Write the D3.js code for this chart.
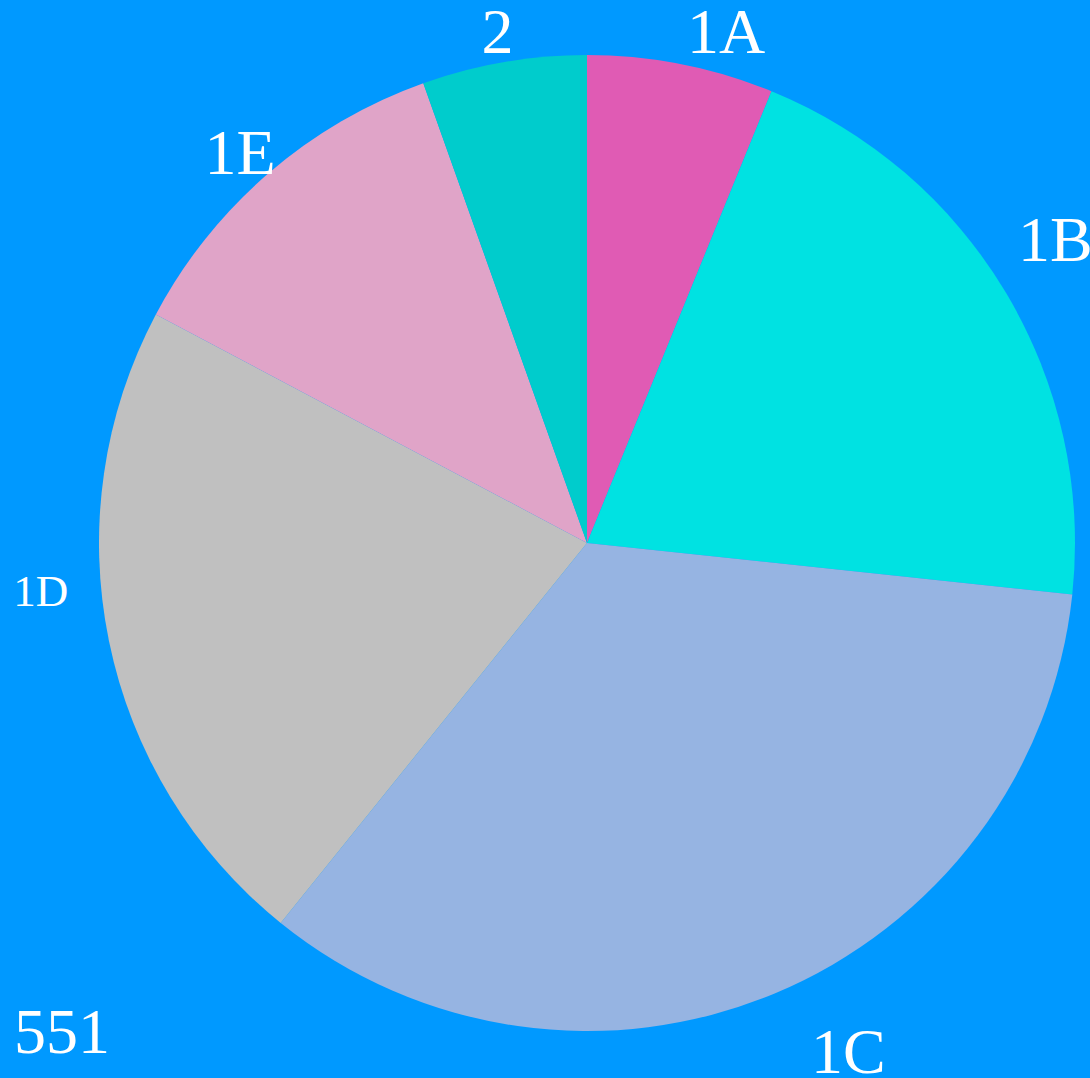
<!DOCTYPE html>
<html>
<head>
<meta charset="utf-8">
<script src="https://cdn.jsdelivr.net/npm/d3@7"></script>
<style>
  html, body { margin: 0; padding: 0; background: #0099ff; overflow: hidden; }
  svg { display: block; }
</style>
</head>
<body>
<svg id="chart" width="1090" height="1078"></svg>
<script>
/* chart data */
const categories = ["1A", "1B", "1C", "1D", "1E", "2"];
const counts = [34, 113, 188, 121, 65, 30];
const sliceColors = ["#e05bb4", "#00e2e2", "#96b4e2", "#c0c0c0", "#e0a4c8", "#00cccc"];
const totalLabel = "n = " + d3.sum(counts);

/* layout */
const width = 1090, height = 1078;
const cx = 587, cy = 543;
const radius = 488;
const labelRadius = 520;
const labelSizes = [64, 64, 64, 45, 64, 64];
// small nudges so labels sit where the original put them
const labelNudge = [[39, -2], [22, -38], [62, 27], [-37, -57], [-7, 2], [-1, 0]];

const svg = d3.select("#chart");

svg.append("rect")
    .attr("width", width)
    .attr("height", height)
    .attr("fill", "#0099ff");

const data = categories.map((c, i) => ({ name: c, value: counts[i], i: i }));

var pie = d3.pie()
    .sort(null)
    .value(d => d.value);

var arc = d3.arc()
    .innerRadius(0)
    .outerRadius(radius);

var labelArc = d3.arc()
    .innerRadius(labelRadius)
    .outerRadius(labelRadius);

const g = svg.append("g")
    .attr("transform", "translate(" + cx + "," + cy + ")");

/* slices */
g.selectAll(".slice")
    .data(pie(data))
    .enter()
    .append("path")
    .attr("class", "slice")
    .attr("d", arc)
    .attr("fill", d => sliceColors[d.data.i]);

/* slice labels */
g.selectAll(".label")
    .data(pie(data))
    .enter()
    .append("text")
    .attr("class", "label")
    .attr("x", d => labelArc.centroid(d)[0] + labelNudge[d.data.i][0])
    .attr("y", d => labelArc.centroid(d)[1] + labelNudge[d.data.i][1])
    .attr("dy", "0.35em")
    .attr("text-anchor", "middle")
    .style("font-family", "'Liberation Serif', 'Times New Roman', serif")
    .style("font-size", d => labelSizes[d.data.i] + "px")
    .style("fill", "white")
    .text(d => d.data.name);

/* total count, bottom left (runs off the edge like the original) */
svg.append("text")
    .attr("x", 110)
    .attr("y", 1053)
    .attr("text-anchor", "end")
    .style("font-family", "'Liberation Serif', 'Times New Roman', serif")
    .style("font-size", "64px")
    .style("fill", "white")
    .text(totalLabel);
</script>
</body>
</html>
